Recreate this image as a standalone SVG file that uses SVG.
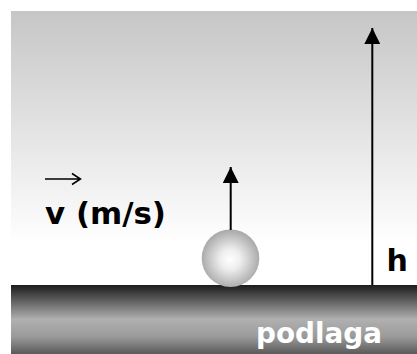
<svg xmlns="http://www.w3.org/2000/svg" width="417" height="354" viewBox="0 0 417 354">
  <defs>
    <linearGradient id="sky" x1="0" y1="11" x2="0" y2="285" gradientUnits="userSpaceOnUse">
      <stop offset="0" stop-color="#c6c6c6"/>
      <stop offset="0.85" stop-color="#ffffff"/>
      <stop offset="1" stop-color="#ffffff"/>
    </linearGradient>
    <linearGradient id="floor" x1="0" y1="285" x2="0" y2="354" gradientUnits="userSpaceOnUse">
      <stop offset="0" stop-color="#1c1c1c"/>
      <stop offset="0.5" stop-color="#b0b0b0"/>
      <stop offset="0.75" stop-color="#9a9a9a"/>
      <stop offset="1" stop-color="#5a5a5a"/>
    </linearGradient>
    <radialGradient id="ball" cx="0.5" cy="0.52" r="0.5" fx="0.49" fy="0.52">
      <stop offset="0" stop-color="#ffffff"/>
      <stop offset="0.35" stop-color="#eeeeee"/>
      <stop offset="1" stop-color="#ababab"/>
    </radialGradient>
    <marker id="head" viewBox="0 0 16 16" markerWidth="16" markerHeight="16" refX="16" refY="8" orient="auto" markerUnits="userSpaceOnUse">
      <path d="M0,0 L16,8 L0,16 Z" fill="#000"/>
    </marker>
    <style>
      .lbl { font-family: "DejaVu Sans", Verdana, sans-serif; font-weight: bold; font-size: 30px; }
      .conn { stroke: #000; stroke-width: 2; fill: none; }
    </style>
  </defs>
  <rect x="0" y="0" width="417" height="354" fill="#ffffff"/>
  <rect x="11" y="11" width="406" height="274" fill="url(#sky)"/>
  <g id="floor-node">
    <rect x="11" y="285" width="406" height="69" fill="url(#floor)"/>
    <text class="lbl" x="256" y="343" fill="#ffffff" style="font-size:29px" textLength="126" lengthAdjust="spacingAndGlyphs">podlaga</text>
  </g>
  <g id="ball-node">
    <circle cx="230.5" cy="258.2" r="28.8" fill="url(#ball)"/>
  </g>
  <g id="velocity-label">
    <path d="M45,179 L80,179 M72,173.5 L80.5,179 L72,184.5" stroke="#000" stroke-width="1.5" fill="none"/>
    <text class="lbl" x="45" y="223.5" fill="#000" style="font-size:31px" textLength="121" lengthAdjust="spacingAndGlyphs">v (m/s)</text>
  </g>
  <g id="height-label">
    <text class="lbl" x="386.5" y="271" fill="#000">h</text>
  </g>
  <g id="connectors">
    <line class="conn" x1="372.3" y1="285" x2="372.3" y2="28" marker-end="url(#head)"/>
    <line class="conn" x1="230.7" y1="230" x2="230.7" y2="167" marker-end="url(#head)"/>
  </g>
</svg>
